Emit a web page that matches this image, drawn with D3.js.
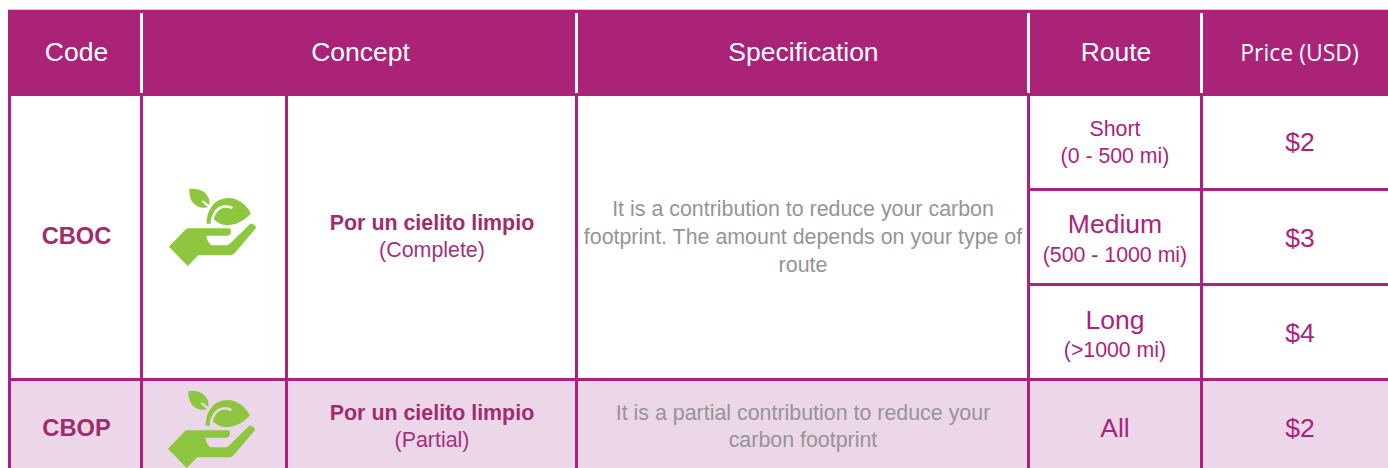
<!DOCTYPE html>
<html>
<head>
<meta charset="utf-8">
<script src="https://cdn.jsdelivr.net/npm/d3@7"></script>
<style>
html, body { margin: 0; padding: 0; background: #fff; overflow: hidden; }
svg { display: block; }
text { font-family: "Liberation Sans", Arial, sans-serif; text-anchor: middle; }
</style>
</head>
<body>
<div id="chart"></div>
<script>
const headers = ["Code", "Concept", "Specification", "Route", "Price (USD)"];
const codes = ["CBOC", "CBOP"];
const conceptNames = ["Por un cielito limpio", "Por un cielito limpio"];
const conceptTypes = ["(Complete)", "(Partial)"];
const specLines = [
    ["It is a contribution to reduce your carbon", "footprint. The amount depends on your type of", "route"],
    ["It is a partial contribution to reduce your", "carbon footprint"]
];
const routes = ["Short", "Medium", "Long", "All"];
const routeRanges = ["(0 - 500 mi)", "(500 - 1000 mi)", "(>1000 mi)", ""];
const prices = ["$2", "$3", "$4", "$2"];

const width = 1388, height = 468;
const purple = "#ab2279", line = "#ae1f7e", pink = "#ecd7e9";
const grey = "#959595", green = "#8dc63f", bold = "#a12b6d";

// column and row rules
const xCode = 141.5, xIcon = 286.5, xConcept = 576.5, xSpec = 1028.5, xRoute = 1201.5;
const yHead = 96, yShort = 189.5, yMedium = 284.5, yLong = 379.5;

const svg = d3.select("#chart").append("svg")
    .attr("width", width)
    .attr("height", height);

// backgrounds
svg.append("rect").attr("x", 8).attr("y", 9).attr("width", width - 8).attr("height", 1).attr("fill", "#dcc3d8");
svg.append("rect").attr("x", 8).attr("y", 10).attr("width", width - 8).attr("height", yHead - 10).attr("fill", purple);
svg.append("rect").attr("x", 8).attr("y", yLong).attr("width", width - 8).attr("height", height - yLong).attr("fill", pink);

// header separators
svg.selectAll(".head-sep")
    .data([xCode, xConcept, xSpec, xRoute])
    .enter().append("rect")
    .attr("class", "head-sep")
    .attr("x", d => d - 1.5)
    .attr("y", 13)
    .attr("width", 3)
    .attr("height", 80)
    .attr("fill", "#fff");

// body rules
svg.selectAll(".v-rule")
    .data([9.5, xCode, xIcon, xConcept, xSpec, xRoute])
    .enter().append("rect")
    .attr("class", "v-rule")
    .attr("x", d => d - 1.5)
    .attr("y", yHead)
    .attr("width", 3)
    .attr("height", height - yHead)
    .attr("fill", line);

svg.selectAll(".h-rule")
    .data([yShort, yMedium])
    .enter().append("rect")
    .attr("class", "h-rule")
    .attr("x", xSpec)
    .attr("y", d => d - 1.5)
    .attr("width", width - xSpec)
    .attr("height", 3)
    .attr("fill", line);

svg.append("rect")
    .attr("x", 8).attr("y", yLong - 1.5)
    .attr("width", width - 8).attr("height", 3)
    .attr("fill", line);

function label(x, y, txt, size, color, weight, family) {
    let t = svg.append("text")
        .attr("x", x)
        .attr("y", y)
        .attr("font-size", size)
        .attr("fill", color)
        .text(txt);
    if (weight) t.attr("font-weight", weight);
    if (family) t.style("font-family", family);
    return t;
}

// header
const headX = [76.5, 360.5, 803.5, 1116, 1299.5];
headers.forEach((h, i) => {
    if (i == 4) label(headX[i], 61, h, 23, "#fff", null, "'Open Sans'");
    else label(headX[i], 61, h, 26.5, "#fff");
});

// codes
const codeY = [244, 436];
codes.forEach((c, i) => label(76.5, codeY[i], c, 23.7, bold, "bold"));

// concept
const conceptY = [[230, 257], [420, 447]];
conceptNames.forEach((c, i) => {
    label(432, conceptY[i][0], c, 21.4, bold, "bold");
    label(432, conceptY[i][1], conceptTypes[i], 21.4, "#a5307d");
});

// specification
const specY = [[216, 243.5, 271.5], [420, 447]];
specLines.forEach((lines, i) => {
    lines.forEach((l, j) => label(803, specY[i][j], l, 21.4, grey));
});

// route
const routeY = [[136, 163], [233, 261.5], [329, 357], [437, 0]];
const routeSize = [[21.3, 21.3], [26.5, 21.3], [26.5, 21.3], [26.5, 0]];
routes.forEach((r, i) => {
    label(1115, routeY[i][0], r, routeSize[i][0], line);
    if (routeRanges[i]) label(1115, routeY[i][1], routeRanges[i], routeSize[i][1], line);
});

// prices
const priceY = [151, 247, 342, 437];
prices.forEach((p, i) => label(1300, priceY[i], p, 26.5, line));

// hand + sprout icon, traced at 3x
const handPath = "M87,230 L138,177 Q141,175 146,175 L265,175 Q273,176 273,186 Q272,196 262,197 L200,197 Q199,213 214,226 L262,226 L268,223 L331,161 Q338,158 346,168 L348,174 L285,248 Q278,256 268,256 L175,256 L143,288 Z";
const leafLeft = "M148,57 C172,54 198,62 206,85 C209,93 209,100 208,105 L189,91 L185,95 L204,112 C180,118 146,105 148,57 Z";
const leafBig = "M200,161 C200,118 225,84 265,84 C295,84 320,105 333,130 C310,155 285,166 260,166 C245,166 232,158 221,148 C226,128 240,114 254,113 C262,113 270,114 276,117 L279,111 C270,106 262,105 252,106 C228,110 213,132 212,161 Z";

const iconPos = [[140, 170], [139, 372]];
const icons = svg.selectAll(".icon")
    .data(iconPos)
    .enter().append("g")
    .attr("class", "icon")
    .attr("transform", d => "translate(" + d[0] + "," + d[1] + ") scale(0.3333)");

[handPath, leafLeft, leafBig].forEach(p => {
    icons.append("path").attr("d", p).attr("fill", green);
});
</script>
</body>
</html>
